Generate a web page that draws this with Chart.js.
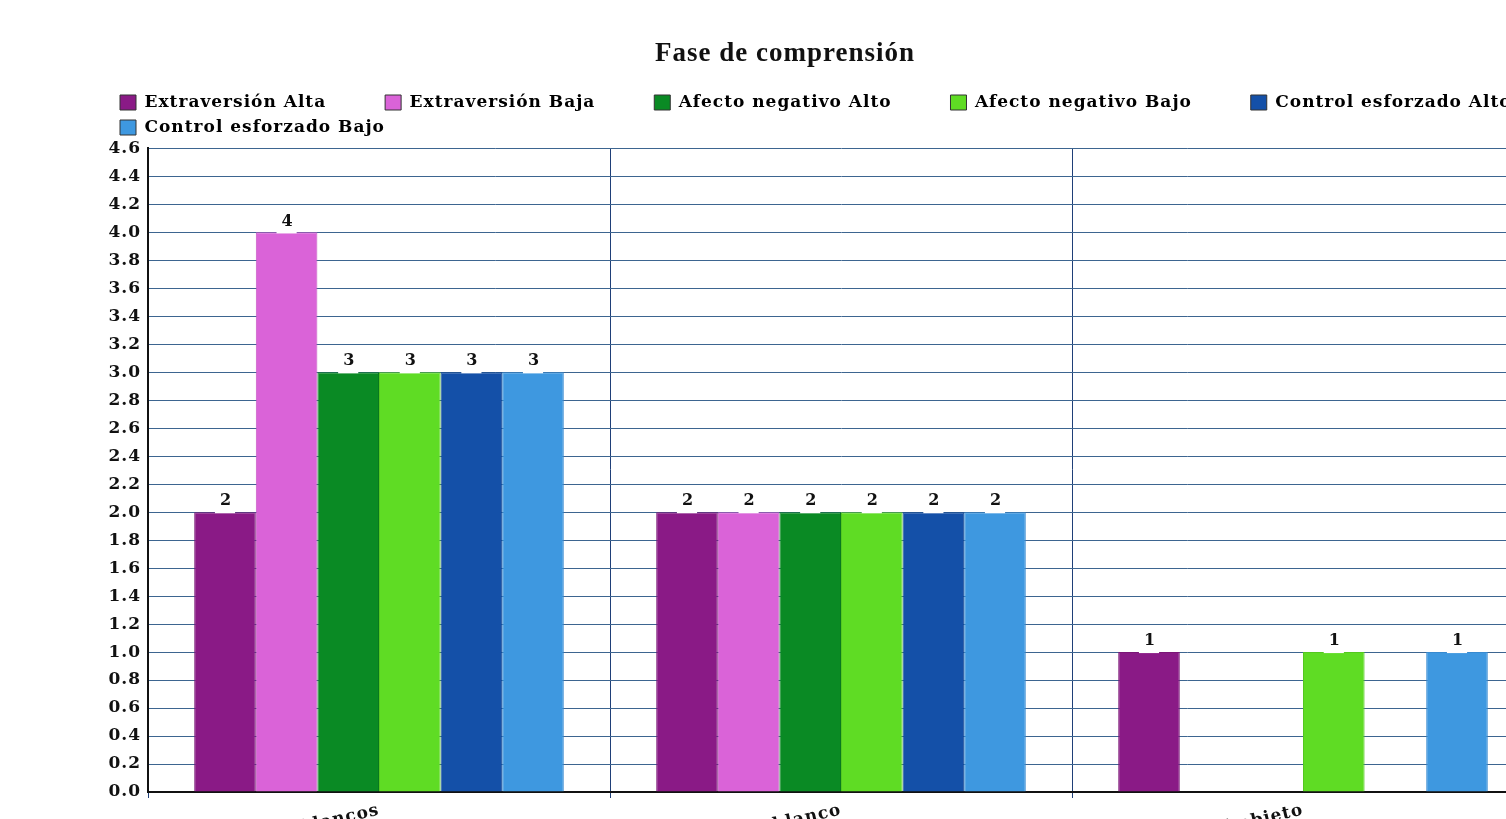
<!DOCTYPE html>
<html>
<head>
<meta charset="utf-8">
<script src="https://cdn.jsdelivr.net/npm/chart.js@4.4.1/dist/chart.umd.min.js"></script>
<style>
  html, body { margin: 0; padding: 0; background: #fff; overflow: hidden; }
  #wrap { width: 1534px; height: 860px; }
</style>
</head>
<body>
<div id="wrap"><canvas id="faseChart"></canvas></div>
<script>
// categories (the labels are cut off at the bottom of the reference)
const categories = ['Espacios en blancos', 'Palabra en blanco', 'Identificación del objeto'];

const seriesNames = [
  'Extraversión Alta', 'Extraversión Baja',
  'Afecto negativo Alto', 'Afecto negativo Bajo',
  'Control esforzado Alto', 'Control esforzado Bajo'
];
const extraversionAlta   = [2, 2, 1];
const extraversionBaja   = [4, 2, 0];
const afectoAlto         = [3, 2, 0];
const afectoBajo         = [3, 2, 1];
const controlAlto        = [3, 2, 0];
const controlBajo        = [3, 2, 1];

const yTicks = { min: 0, max: 4.6, step: 0.2 };

const colors  = ['#8a1a86', '#da63d8', '#0a8a24', '#5fdc24', '#1450a8', '#3e98e0'];
const borders = ['#7a1676', '#c758c5', '#08791f', '#54c720', '#124794', '#378ad0'];

const seriesValues = [extraversionAlta, extraversionBaja, afectoAlto, afectoBajo, controlAlto, controlBajo];

const serif = '"DejaVu Serif", serif';
const GAP = '\u2003\u2003\u2002\u200A\u200A';

// the original text is drawn wide, so space the letters out a little
const wideText = {
  id: 'wideText',
  beforeLayout(chart) { chart.ctx.letterSpacing = '1px'; },
  beforeDraw(chart) { chart.ctx.letterSpacing = '1px'; }
};

// value labels with a white box behind them
const barLabels = {
  id: 'barLabels',
  afterDatasetsDraw(chart) {
    const ctx = chart.ctx;
    ctx.save();
    ctx.font = 'bold 16px ' + serif;
    ctx.textAlign = 'center';
    ctx.textBaseline = 'bottom';
    chart.data.datasets.forEach((ds, i) => {
      chart.getDatasetMeta(i).data.forEach((bar, j) => {
        const v = ds.data[j];
        if (!v) return;
        const txt = String(v);
        const w = ctx.measureText(txt).width + 8;
        ctx.fillStyle = '#fff';
        ctx.fillRect(bar.x - w / 2, bar.y - 19, w, 20);
        ctx.fillStyle = '#111';
        ctx.fillText(txt, bar.x + 1, bar.y - 3);
      });
    });
    ctx.restore();
  }
};

// legend sits further right than the layout padding
const legendShift = {
  id: 'legendShift',
  beforeDraw(chart) {
    chart.legend.left = 112;
    chart.legend.right = chart.width + 76;
    chart.legend.top = 86;
  }
};

new Chart(faseChart, {
  type: 'bar',
  data: {
    labels: categories,
    datasets: seriesNames.map((name, i) => ({
      label: name,
      data: seriesValues[i],
      backgroundColor: colors[i],
      borderColor: borders[i],
      borderWidth: 1,
      categoryPercentage: 0.8,
      barPercentage: 1
    }))
  },
  options: {
    responsive: true,
    maintainAspectRatio: false,
    animation: false,
    layout: { padding: { left: 36, top: 0, right: 0, bottom: 0 } },
    plugins: {
      title: {
        display: true,
        text: 'Fase de comprensión',
        color: '#111',
        font: { family: '"Liberation Serif", serif', size: 27, weight: 'bold' },
        padding: { top: 38, bottom: 18 }
      },
      legend: {
        align: 'start',
        labels: {
          color: '#111',
          font: { family: serif, size: 17, weight: 'bold' },
          boxWidth: 16,
          boxHeight: 15,
          padding: 8,
          generateLabels(chart) {
            return chart.data.datasets.map((ds, i) => ({
              text: ds.label + GAP,
              fillStyle: ds.backgroundColor,
              strokeStyle: '#333',
              lineWidth: 1,
              datasetIndex: i
            }));
          }
        }
      },
      tooltip: { enabled: false }
    },
    scales: {
      x: {
        grid: { offset: true, color: '#1f3f78', lineWidth: 1, tickLength: 6, drawOnChartArea: true },
        border: { color: '#111', width: 2 },
        ticks: {
          color: '#111',
          font: { family: serif, size: 17, weight: 'bold' },
          minRotation: 13, maxRotation: 13, autoSkip: false, padding: 2
        },
        afterFit(scale) { scale.height = 68; }
      },
      y: {
        min: yTicks.min,
        max: yTicks.max,
        grid: { color: '#3d6590', lineWidth: 1, drawTicks: false },
        border: { color: '#111', width: 2 },
        ticks: {
          stepSize: yTicks.step,
          color: '#111',
          padding: 7,
          font: { family: serif, size: 17, weight: 'bold' },
          callback: v => v.toFixed(1)
        },
        afterFit(scale) { scale.width = 112; }
      }
    }
  },
  plugins: [wideText, barLabels, legendShift]
});
</script>
</body>
</html>
